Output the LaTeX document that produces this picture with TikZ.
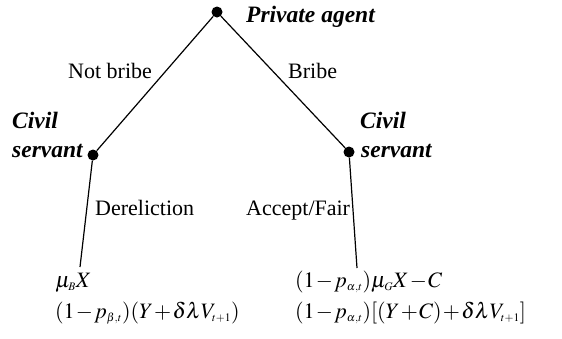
\documentclass[tikz,border=0pt]{standalone}
\usepackage{mathptmx}
\usepackage{fontspec}
\setmainfont{Liberation Serif}
\DeclareMathSizes{22}{22}{11.5}{8}
\newcommand{\paysetup}{\fontsize{22}{26}\selectfont\medmuskip=1mu\relax}
\begin{document}
\begin{tikzpicture}[x=1pt,y=-1pt,
  dot/.style={circle,fill=black,inner sep=0pt,minimum size=11pt},
  edge/.style={line width=1.2pt},
  lbl/.style={anchor=base west,inner sep=0pt,font=\fontsize{22}{26}\selectfont},
  pay/.style={anchor=base west,inner sep=0pt,font=\paysetup},
  who/.style={anchor=base west,inner sep=0pt,font=\fontsize{23.5}{28}\selectfont\bfseries\itshape}]
\useasboundingbox (0,0) rectangle (562,338);
\node[dot] (top) at (217,12) {};
\node[dot] (cl) at (93,155) {};
\node[dot] (cr) at (349,152) {};
\coordinate (el) at (80,267);
\coordinate (er) at (357,268);
\draw[edge] (top) -- (cl);
\draw[edge] (top) -- (cr);
\draw[edge] (cl) -- (el);
\draw[edge] (cr) -- (er);
\node[who] (pa) at (246,22) {Private agent};
\node[who] (lc1) at (12,128) {Civil};
\node[who] (lc2) at (12,157) {servant};
\node[who] (rc1) at (360,128) {Civil};
\node[who] (rc2) at (361,157) {servant};
\node[lbl] (nb) at (68,78) {Not bribe};
\node[lbl] (br) at (288,78) {Bribe};
\node[lbl] (de) at (95,215) {Dereliction};
\node[lbl] (af) at (246,215) {Accept/Fair};
\node[pay] (p1) at (55,287) {$\mu_B X$};
\node[pay] (p2) at (55,318) {$(1-p_{\beta,t})(Y+\delta\lambda V_{t+1})$};
\node[pay] (p3) at (295,287) {$(1-p_{\alpha,t})\mu_G X-C$};
\node[pay] (p4) at (295,318) {$(1-p_{\alpha,t})[(Y+C)+\delta\lambda V_{t+1}]$};
\end{tikzpicture}
\end{document}
